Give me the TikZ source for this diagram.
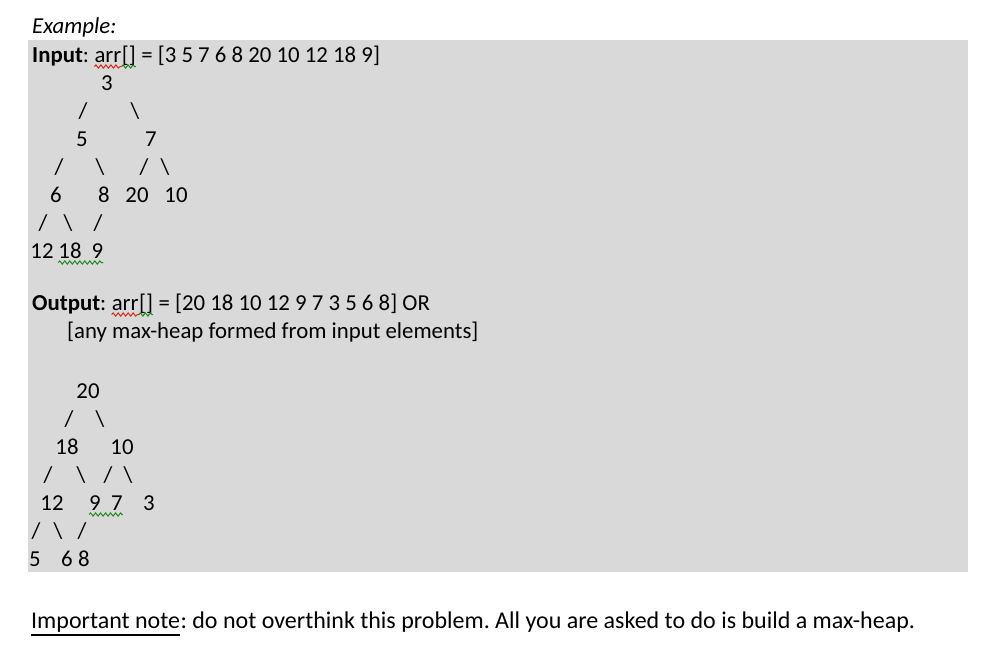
\documentclass[tikz,border=0pt]{standalone}
\usepackage{fontspec}
\setmainfont{Carlito}
\usetikzlibrary{decorations.pathmorphing}
\definecolor{boxgray}{HTML}{D9D9D9}
\definecolor{sqred}{HTML}{D9261C}
\definecolor{sqgreen}{HTML}{1E8A1E}
\frenchspacing
\begin{document}
\begin{tikzpicture}[x=1pt,y=-1pt,
  txt/.style={inner sep=0pt, anchor=base west, font=\fontsize{22.8}{28}\selectfont},
  bigtxt/.style={inner sep=0pt, anchor=base west, font=\fontsize{24}{29}\selectfont},
  ch/.style={inner sep=0pt, anchor=base, font=\fontsize{22.8}{28}\selectfont},
  redsq/.style={draw=sqred, line width=1pt, decorate, decoration={snake, amplitude=1.6pt, segment length=5pt}},
  greensq/.style={draw=sqgreen, line width=1pt, decorate, decoration={snake, amplitude=1.6pt, segment length=5pt}}]
\useasboundingbox (0,0) rectangle (1002,648);
\fill[boxgray] (28,40) rectangle (968,572);

% heading
\node[txt] (ex) at (32,33) {\textit{Example:}};

% input line
\node[txt] (inA) at (32,62) {\textbf{Input}:\ \null};
\node[txt] (inArr) at (inA.base east) {arr};
\node[txt] (inBr) at (inArr.base east) {[]};
\node[txt] (inB) at (inBr.base east) {\ = [3 5 7 6 8 20 10 12 18 9]};
\draw[redsq] ([yshift=-4.5pt]inArr.base west) -- ([yshift=-4.5pt]inArr.base east);
\draw[greensq] ([yshift=-4.5pt]inBr.base west) -- ([yshift=-4.5pt]inBr.base east);

% input tree
\node[ch] (t3) at (107,90) {3};
\node[ch] (s1) at (83,118) {/};
\node[ch] (s2) at (135,118) {\textbackslash};
\node[ch] (t5) at (82,146) {5};
\node[ch] (t7) at (151,146) {7};
\node[ch] (s3) at (59,174) {/};
\node[ch] (s4) at (100,174) {\textbackslash};
\node[ch] (s5) at (144,174) {/};
\node[ch] (s6) at (165,174) {\textbackslash};
\node[ch] (t6) at (56,202) {6};
\node[ch] (t8) at (104,202) {8};
\node[ch] (t20) at (137,202) {20};
\node[ch] (t10) at (176,202) {10};
\node[ch] (s7) at (43,230) {/};
\node[ch] (s8) at (68,230) {\textbackslash};
\node[ch] (s9) at (98,230) {/};
\node[ch] (t12) at (42,258) {12};
\node[ch] (t18) at (70,258) {18};
\node[ch] (t9) at (97.5,258) {9};
\draw[greensq] ([yshift=-4.5pt]t18.base west) -- ([yshift=-4.5pt]t9.base east);

% output lines
\node[txt] (outA) at (32,310) {\textbf{Output}:\ \null};
\node[txt] (outArr) at (outA.base east) {arr};
\node[txt] (outBr) at (outArr.base east) {[]};
\node[txt] (outB) at (outBr.base east) {\ = [20 18 10 12 9 7 3 5 6 8] OR};
\node[txt] (outC) at (67,338) {[any max-heap formed from input elements]};
\draw[redsq] ([yshift=-4.5pt]outArr.base west) -- ([yshift=-4.5pt]outArr.base east);
\draw[greensq] ([yshift=-4.5pt]outBr.base west) -- ([yshift=-4.5pt]outBr.base east);

% output tree
\node[ch] (u20) at (88,398) {20};
\node[ch] (r1) at (69,426) {/};
\node[ch] (r2) at (100,426) {\textbackslash};
\node[ch] (u18) at (67,454) {18};
\node[ch] (u10) at (122,454) {10};
\node[ch] (r3) at (48,482) {/};
\node[ch] (r4) at (81,482) {\textbackslash};
\node[ch] (r5) at (108,482) {/};
\node[ch] (r6) at (128,482) {\textbackslash};
\node[ch] (u12) at (52,510) {12};
\node[ch] (u9) at (95,510) {9};
\node[ch] (u7) at (117,510) {7};
\node[ch] (u3) at (149,510) {3};
\node[ch] (r7) at (36,538) {/};
\node[ch] (r8) at (58,538) {\textbackslash};
\node[ch] (r9) at (82,538) {/};
\node[ch] (u5) at (35,566) {5};
\node[ch] (u6) at (67,566) {6};
\node[ch] (u8) at (84,566) {8};
\draw[greensq] ([yshift=-4.5pt]u9.base west) -- ([yshift=-4.5pt]u7.base east);

% note
\node[bigtxt] (note1) at (31,628) {Important note};
\node[bigtxt] (note2) at (note1.base east) {: do not overthink this problem. All you are asked to do is build a max-heap.};
\draw[line width=2pt] ([yshift=-6.5pt]note1.base west) -- ([yshift=-6.5pt]note1.base east);
\end{tikzpicture}
\end{document}
